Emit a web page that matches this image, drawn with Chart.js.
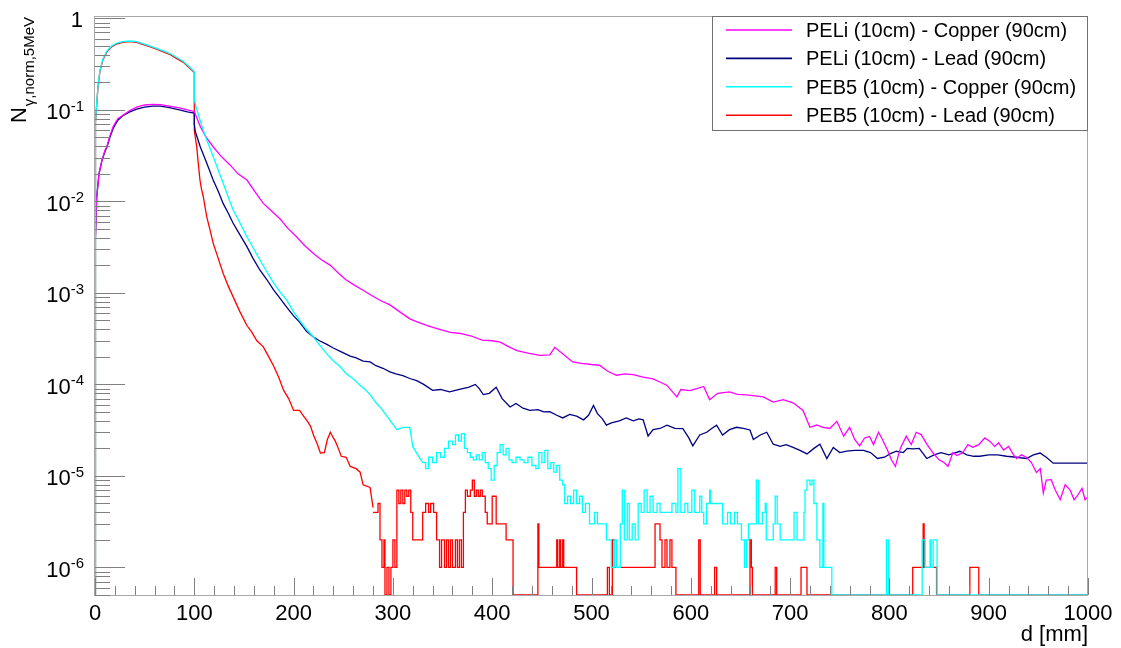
<!DOCTYPE html>
<html>
<head>
<meta charset="utf-8">
<script src="https://cdn.jsdelivr.net/npm/chart.js@4.4.1/dist/chart.umd.min.js"></script>
<style>
  html, body { margin: 0; padding: 0; background: #fff; }
  #wrap { width: 1121px; height: 648px; }
</style>
</head>
<body>
<div id="wrap"><canvas id="chart" width="1121" height="648"></canvas></div>
<script>
// axis ranges
const X_MIN = 0
const X_MAX = 1000
const Y_MIN = 5e-7
const Y_MAX = 1.06
const xMajorTicks = [0, 100, 200, 300, 400, 500, 600, 700, 800, 900, 1000]
const yDecades = [0, -1, -2, -3, -4, -5, -6]
const xTitle = 'd [mm]'

const labels = [
  'PELi (10cm) - Copper (90cm)',
  'PELi (10cm) - Lead (90cm)',
  'PEB5 (10cm) - Copper (90cm)',
  'PEB5 (10cm) - Lead (90cm)',
]
const colors = ['#ff00ff', '#000080', '#00ffff', '#ff0000']

// [d (mm), N]
const peliCopper = [
  [0, 0.003], [1.7, 0.011], [4, 0.02], [7, 0.028], [10, 0.036], [12, 0.04], [15, 0.052], [18.4, 0.066],
  [23, 0.08], [28.5, 0.088], [35, 0.098], [42, 0.107], [50, 0.113], [58, 0.115], [66, 0.114], [75, 0.11],
  [85, 0.105], [93, 0.1], [100, 0.096], [106, 0.066], [112, 0.05], [119, 0.0395], [127, 0.031], [136, 0.025],
  [144, 0.02], [153, 0.0171], [161, 0.0128], [169.5, 0.0095], [178, 0.0078], [186, 0.0065], [194, 0.0051],
  [203, 0.0041], [211, 0.0033], [220, 0.0027], [228, 0.0023], [237, 0.002], [245, 0.00165], [253, 0.00138],
  [262, 0.0012], [270, 0.00107], [279, 0.00093], [287, 0.00083], [297, 0.00074], [307, 0.00062], [317, 0.00052],
  [327, 0.00047], [337, 0.00043], [347, 0.0004], [358, 0.00037], [368, 0.00036], [378, 0.00034], [390, 0.000305],
  [400, 0.0003], [408, 0.00029], [416, 0.00026], [425, 0.000234], [436, 0.00022], [448, 0.000208], [458, 0.00021],
  [463, 0.000254], [470, 0.00022], [481, 0.000176], [490, 0.00017], [500, 0.000165], [508, 0.000162],
  [516, 0.00014], [525, 0.000126], [534, 0.00013], [542, 0.000128], [552, 0.00012], [562, 0.000115],
  [570, 0.000105], [576, 0.0000975], [586, 0.000073], [590, 0.000088], [599, 0.0000855], [606, 0.00009],
  [613, 0.000095], [619, 0.000068], [627, 0.00008], [639, 0.000083], [647, 0.000078], [656, 0.000077],
  [665, 0.000075], [673, 0.000073], [683, 0.000064], [693, 0.000068], [703, 0.000063], [713, 0.000052],
  [720, 0.000034], [727, 0.000036], [733, 0.000034], [740, 0.000033], [747, 0.0000395], [754, 0.0000272],
  [760, 0.000034], [765, 0.000025], [770, 0.0000213], [775, 0.000026], [780, 0.000027], [784, 0.000022],
  [789, 0.00003], [793, 0.000025], [798, 0.0000192], [802, 0.000015], [806, 0.0000127], [811, 0.00002],
  [817, 0.0000272], [822, 0.000022], [827, 0.00003], [832, 0.0000283], [838, 0.000022], [844, 0.0000178],
  [850, 0.000015], [855, 0.000014], [859, 0.0000127], [864, 0.000018], [868, 0.0000167], [874, 0.000018],
  [879, 0.000022], [884, 0.0000206], [890, 0.000022], [896, 0.000026], [901, 0.000024], [906, 0.000021],
  [910, 0.000023], [915, 0.0000192], [920, 0.000021], [925, 0.000017], [928, 0.0000155], [933, 0.000017],
  [938, 0.000016], [943, 0.000014], [948, 0.0000109], [952, 0.000012], [955, 0.0000065], [958, 0.000009],
  [963, 0.0000091], [967, 0.000007], [972, 0.0000055], [977, 0.000008], [982, 0.000007], [986, 0.0000055],
  [989, 0.000006], [994, 0.0000073], [997, 0.0000055], [1000, 0.0000059],
]

const peliLead = [
  [0, 0.003], [1.7, 0.011], [4, 0.02], [7, 0.028], [10, 0.035], [12, 0.039], [15, 0.05], [18.4, 0.063],
  [23, 0.077], [28.5, 0.087], [35, 0.095], [42, 0.102], [50, 0.107], [58, 0.11], [66, 0.11], [75, 0.106],
  [85, 0.1], [93, 0.095], [100, 0.092], [100, 0.07], [101, 0.058], [106, 0.0395], [112.5, 0.0263],
  [119, 0.0171], [124, 0.013], [129, 0.0095], [134, 0.0075], [139, 0.0058], [146, 0.0043], [153, 0.0032],
  [159, 0.0024], [166, 0.00178], [173, 0.0014], [180, 0.00107], [186, 0.00088], [193, 0.0007], [200, 0.00056],
  [206, 0.00048], [213, 0.00038], [220, 0.00033], [226, 0.0003], [233, 0.000275], [240, 0.00025], [247, 0.00023],
  [257, 0.000204], [263, 0.000195], [270, 0.00018], [277, 0.000176], [283, 0.00016], [290, 0.00015],
  [297, 0.000137], [303, 0.00013], [310, 0.000125], [317, 0.000116], [324, 0.00011], [331, 0.0001],
  [340, 0.000086], [348, 0.000088], [357, 0.000083], [363, 0.000086], [370, 0.00009], [376, 0.000093],
  [383, 0.0001], [387, 0.00009], [391, 0.0000775], [397, 0.00008], [404, 0.000093], [410, 0.00007],
  [418, 0.0000567], [424, 0.000062], [431, 0.000055], [438, 0.000052], [446, 0.000053], [452, 0.00005],
  [458, 0.0000505], [465, 0.000046], [471, 0.000043], [478, 0.000047], [485, 0.000045], [492, 0.000041],
  [497, 0.000046], [502, 0.000059], [506, 0.000048], [511, 0.000042], [515, 0.0000359], [520, 0.000038],
  [528, 0.00004], [535, 0.000043], [542, 0.00004], [548, 0.000042], [552, 0.000041], [557, 0.0000273],
  [562, 0.000032], [569, 0.000033], [576, 0.0000359], [584, 0.000033], [592, 0.0000328], [598, 0.000026],
  [602, 0.0000213], [609, 0.000028], [616, 0.00003], [621, 0.000033], [626, 0.0000359], [632, 0.000028],
  [639, 0.000032], [646, 0.000034], [653, 0.000033], [659.6, 0.0000318], [663, 0.000025], [670, 0.000028],
  [676.5, 0.00003], [683, 0.0000222], [690, 0.000021], [696, 0.000022], [703, 0.0000205], [710, 0.000019],
  [717, 0.0000174], [724, 0.00002], [730, 0.0000222], [737, 0.0000155], [743.5, 0.0000205], [750, 0.000018],
  [757, 0.0000187], [765, 0.000019], [774, 0.000019], [781, 0.000018], [788, 0.0000155], [795, 0.000016],
  [801, 0.0000175], [807, 0.0000186], [814, 0.000018], [818, 0.00002], [824, 0.0000198], [830, 0.00002],
  [837.6, 0.0000155], [845, 0.000017], [852, 0.000018], [860, 0.000017], [871, 0.0000186], [878, 0.000017],
  [885, 0.0000164], [891, 0.0000164], [900, 0.000017], [909, 0.000017], [918, 0.0000164], [928, 0.000016],
  [938, 0.0000155], [945, 0.000017], [951.7, 0.0000178], [958, 0.000016], [965, 0.0000138], [1000, 0.0000138],
]

const peb5CopperHead = [
  [0, 0], [0, 0.035], [1, 0.075], [2, 0.13], [3, 0.18], [5, 0.27], [8, 0.36], [12, 0.44], [17, 0.5],
  [22, 0.535], [28, 0.555], [35, 0.565], [42, 0.555], [48, 0.53], [55, 0.5], [62, 0.47], [70, 0.435],
  [76, 0.41], [82, 0.375], [89, 0.338], [95, 0.295], [100, 0.26], [100, 0.13], [102, 0.105], [105.7, 0.078],
  [109, 0.06], [112.5, 0.047], [119, 0.031], [124, 0.022], [129, 0.0159], [134, 0.0113], [139, 0.0081],
  [146, 0.0058], [153, 0.0041], [160, 0.003], [166, 0.0023], [173, 0.0017], [180, 0.00128], [187, 0.001],
  [193, 0.00084], [200, 0.00062], [206, 0.0005], [213, 0.0004], [220, 0.00033], [226, 0.00027], [233, 0.000218],
  [240, 0.00018], [246, 0.00016], [253, 0.000131], [260, 0.000115], [266, 0.0001], [273, 0.000086],
  [278, 0.000075], [283, 0.000063], [288, 0.000055], [294, 0.000045], [299, 0.000038], [304, 0.000032],
  [310, 0.000034], [317, 0.000034], [320, 0.000021], [325, 0.000017], [330, 0.000014],
]

// noisy tail, histogram steps: value holds from d until the next entry
const peb5CopperTail = [
  [330, 1.4e-5], [333, 1.2e-5], [336, 1.6e-5], [340, 1.4e-5], [344, 1.8e-5], [348, 1.6e-5], [352, 2.0e-5],
  [356, 2.4e-5], [360, 2.2e-5], [363, 2.8e-5], [366, 2.4e-5], [369, 2.9e-5], [372, 2.0e-5], [375, 1.8e-5],
  [378, 1.6e-5], [381, 1.5e-5], [384, 1.7e-5], [387, 1.5e-5], [390, 1.8e-5], [393, 1.4e-5], [396, 1.2e-5],
  [399, 9e-6], [402, 1.3e-5], [405, 1.8e-5], [408, 2.2e-5], [411, 1.7e-5], [414, 2.0e-5], [417, 1.5e-5],
  [420, 1.4e-5], [424, 1.6e-5], [428, 1.5e-5], [432, 1.4e-5], [436, 1.6e-5], [440, 1.3e-5], [444, 1.2e-5],
  [447, 1.8e-5], [450, 1.4e-5], [453, 1.9e-5], [456, 1.2e-5], [459, 1.4e-5], [462, 1.1e-5], [465, 1.3e-5],
  [468, 9e-6], [471, 8e-6], [473, 5e-6], [476, 6e-6], [479, 5e-6], [482, 7e-6], [485, 5e-6], [488, 6e-6],
  [491, 4e-6], [494, 5e-6], [498, 3e-6], [503, 4e-6], [506, 3e-6], [515, 2e-6], [520, 1e-6], [523, 2e-6],
  [525, 1e-6], [529, 3e-6], [531, 7e-6], [533, 2e-6], [536, 5e-6], [538, 2e-6], [541, 3e-6], [544, 2e-6],
  [547, 5e-6], [550, 4e-6], [553, 7e-6], [556, 4e-6], [559, 6e-6], [562, 4e-6], [566, 5e-6], [569, 4e-6],
  [581, 5e-6], [585, 4e-6], [587, 1.2e-5], [590, 4e-6], [594, 5e-6], [597, 4e-6], [601, 7e-6], [604, 4e-6],
  [609, 6e-6], [611, 4e-6], [613, 3e-6], [616, 5e-6], [619, 7e-6], [620, 5e-6], [632, 3e-6], [637, 4e-6],
  [640, 3e-6], [644, 4e-6], [647, 3e-6], [651, 2e-6], [654, 1e-6], [656, 2e-6], [658, 3e-6], [666, 9e-6],
  [668, 3e-6], [672, 4e-6], [675, 5e-6], [676, 2e-6], [683, 3e-6], [685, 6e-6], [687, 3e-6], [690, 2e-6],
  [704, 4e-6], [707, 2e-6], [714, 4e-6], [715, 7e-6], [717, 9e-6], [720, 8e-6], [722, 9e-6], [724, 5e-6],
  [727, 2e-6], [730, 1e-6], [733, 5e-6], [734, 1e-6], [742, 0], [797, 2e-6], [799, 0], [833, 2e-6],
  [836, 1e-6], [841, 2e-6], [842, 1e-6], [844, 2e-6], [848, 0], [1000, 0],
]

const peb5LeadHead = [
  [0, 0], [0, 0.034], [1, 0.073], [2, 0.127], [3, 0.176], [5, 0.265], [8, 0.353], [12, 0.43], [17, 0.49],
  [22, 0.525], [28, 0.545], [35, 0.555], [42, 0.545], [48, 0.52], [55, 0.49], [62, 0.46], [70, 0.425],
  [76, 0.4], [82, 0.365], [89, 0.33], [95, 0.288], [100, 0.255], [100, 0.06], [101, 0.05], [102.4, 0.04],
  [104, 0.026], [105.7, 0.0171], [107, 0.014], [109, 0.0113], [112.5, 0.0068], [116, 0.0048], [119, 0.0035],
  [124, 0.0024], [129, 0.00164], [134, 0.0012], [139, 0.00091], [146, 0.00062], [153, 0.00044], [158, 0.00037],
  [163, 0.0003], [169.5, 0.000257], [175, 0.0002], [180, 0.000158], [185, 0.00012], [190, 0.000086],
  [195, 0.00007], [200, 0.000052], [206, 0.000052], [210, 0.000045], [213, 0.000041], [217, 0.000035],
  [220, 0.000028], [224, 0.000022], [227, 0.0000178], [231, 0.000018], [234, 0.000025], [237, 0.00003],
  [240, 0.000026], [242, 0.000024], [245, 0.00002], [248, 0.0000164], [253, 0.000016], [257, 0.0000127],
  [263, 0.000012], [267, 0.000011], [270, 0.000008], [277, 0.0000075], [280, 0.0000045],
]

const peb5LeadTail = [
  [280, 4e-6], [285, 5e-6], [287, 2e-6], [289, 1e-6], [291, 2e-6], [292, 0], [294, 1e-6], [296, 0],
  [298, 1e-6], [300, 2e-6], [302, 1e-6], [304, 7e-6], [306, 5e-6], [308, 7e-6], [310, 5e-6], [312, 7e-6],
  [314, 6e-6], [316, 7e-6], [318, 4e-6], [320, 2e-6], [330, 4e-6], [333, 5e-6], [336, 4e-6], [338, 5e-6],
  [341, 4e-6], [344, 2e-6], [347, 1e-6], [349, 2e-6], [352, 1e-6], [354, 2e-6], [356, 1e-6], [358, 2e-6],
  [360, 1e-6], [363, 2e-6], [365, 1e-6], [367, 2e-6], [369, 1e-6], [371, 4e-6], [373, 7e-6], [375, 6e-6],
  [378, 7e-6], [380, 9e-6], [382, 6e-6], [384, 7e-6], [386, 6e-6], [388, 7e-6], [390, 6e-6], [393, 4e-6],
  [395, 3e-6], [400, 6e-6], [404, 3e-6], [414, 2e-6], [421, 0], [446, 3e-6], [447, 1e-6], [465, 2e-6],
  [466, 1e-6], [468, 2e-6], [469, 1e-6], [471, 2e-6], [472, 1e-6], [485, 0], [516, 1e-6], [518, 0],
  [521, 2e-6], [523, 1e-6], [564, 3e-6], [569, 2e-6], [571, 1e-6], [574, 2e-6], [576, 1e-6], [579, 2e-6],
  [581, 1e-6], [585, 0], [608, 2e-6], [609.5, 0], [624, 1e-6], [626, 0], [659.6, 2e-6], [661, 1e-6],
  [662, 0], [685, 1e-6], [686.5, 0], [711, 1e-6], [717, 0], [823.5, 1e-6], [834, 3e-6], [835, 1e-6],
  [847.5, 0], [881, 1e-6], [890, 0], [1000, 0],
]

const FONT = '"Liberation Sans", Arial, Helvetica, sans-serif'

function toPoints(pairs) {
  // empty bins sit on the bottom of the frame
  return pairs.map(([d, v]) => ({ x: d, y: v > 0 ? v : Y_MIN }))
}

function line(data, color, order, stepped) {
  return {
    data: toPoints(data),
    borderColor: color,
    borderWidth: 1.3,
    pointRadius: 0,
    tension: 0,
    fill: false,
    stepped: stepped,
    order: order,
  }
}

// ROOT-like frame, inward ticks, labels and legend
const rootFrame = {
  id: 'rootFrame',
  afterDatasetsDraw(chart) {
    const { ctx, chartArea: a, scales: { x, y } } = chart
    ctx.save()

    // frame
    ctx.strokeStyle = '#a8a8a8'
    ctx.lineWidth = 1
    ctx.strokeRect(a.left - 0.5, a.top + 0.5, a.right - a.left, a.bottom - a.top)

    // y ticks
    ctx.strokeStyle = '#808080'
    ctx.beginPath()
    for (let e = -7; e <= 0; e++) {
      for (let m = 1; m <= 9; m++) {
        const v = m * Math.pow(10, e)
        if (v < Y_MIN || v > Y_MAX) continue
        const py = Math.round(y.getPixelForValue(v)) + 0.5
        const len = m === 1 ? 30 : 15
        ctx.moveTo(a.left, py)
        ctx.lineTo(a.left + len, py)
      }
    }
    // x ticks
    for (let d = X_MIN; d <= X_MAX; d += 20) {
      const px = Math.round(x.getPixelForValue(d)) + 0.5
      const len = d % 100 === 0 ? 17 : 9
      ctx.moveTo(px, a.bottom)
      ctx.lineTo(px, a.bottom - len)
    }
    ctx.stroke()

    // y labels
    ctx.fillStyle = '#000'
    ctx.textBaseline = 'alphabetic'
    yDecades.forEach((e) => {
      const py = y.getPixelForValue(Math.pow(10, e))
      if (e === 0) {
        ctx.font = '22px ' + FONT
        ctx.textAlign = 'right'
        ctx.fillText('1', 83, py + 9)
        return
      }
      ctx.font = '22px ' + FONT
      const w10 = ctx.measureText('10').width
      ctx.font = '15px ' + FONT
      const sup = '-' + -e
      const wSup = ctx.measureText(sup).width
      const x0 = 84 - w10 - wSup
      ctx.textAlign = 'left'
      ctx.font = '22px ' + FONT
      ctx.fillText('10', x0, py + 9.5)
      ctx.font = '15px ' + FONT
      ctx.fillText(sup, x0 + w10, py + 1)
    })

    // x labels
    ctx.font = '22px ' + FONT
    ctx.textAlign = 'center'
    xMajorTicks.forEach((d) => {
      ctx.fillText(String(d), x.getPixelForValue(d), 620)
    })
    ctx.textAlign = 'right'
    ctx.fillText(xTitle, a.right, 641)

    // y title, rotated, ending at the top of the axis
    ctx.save()
    ctx.font = '22px ' + FONT
    const wN = ctx.measureText('N').width
    ctx.font = '15px ' + FONT
    const sub = 'γ,norm,5MeV'
    const wSub = ctx.measureText(sub).width
    ctx.translate(26, 17 + wN + wSub + 1)
    ctx.rotate(-Math.PI / 2)
    ctx.textAlign = 'left'
    ctx.font = '22px ' + FONT
    ctx.fillText('N', 0, 0)
    ctx.font = '15px ' + FONT
    ctx.fillText(sub, wN + 1, 8)
    ctx.restore()

    // legend box
    const lx = 712.5, ly = 16.5, lw = 375, lh = 114
    ctx.fillStyle = '#fff'
    ctx.fillRect(lx, ly, lw, lh)
    ctx.strokeStyle = '#707070'
    ctx.strokeRect(lx, ly, lw, lh)
    ctx.font = '20px ' + FONT
    ctx.textAlign = 'left'
    labels.forEach((t, i) => {
      const ry = 30 + i * 28.4
      ctx.strokeStyle = colors[i]
      ctx.lineWidth = 1.6
      ctx.beginPath()
      ctx.moveTo(726, ry)
      ctx.lineTo(792, ry)
      ctx.stroke()
      ctx.fillStyle = '#000'
      ctx.fillText(t, 806, ry + 7)
    })

    ctx.restore()
  },
}

let ctx = document.getElementById('chart').getContext('2d')

const chart = new Chart(ctx, {
  type: 'line',
  data: {
    datasets: [
      line(peliCopper, colors[0], 2, false),
      line(peliLead, colors[1], 3, false),
      line(peb5CopperHead, colors[2], 1, false),
      line(peb5CopperTail, colors[2], 1, true),
      line(peb5LeadHead, colors[3], 4, false),
      line(peb5LeadTail, colors[3], 4, true),
    ],
  },
  options: {
    responsive: false,
    devicePixelRatio: 1,
    animation: false,
    layout: { padding: { left: 95, top: 16, right: 33, bottom: 53 } },
    scales: {
      x: { type: 'linear', min: X_MIN, max: X_MAX, display: false },
      y: { type: 'logarithmic', min: Y_MIN, max: Y_MAX, display: false },
    },
    plugins: {
      legend: { display: false },
      tooltip: { enabled: false },
    },
  },
  plugins: [rootFrame],
})
</script>
</body>
</html>
